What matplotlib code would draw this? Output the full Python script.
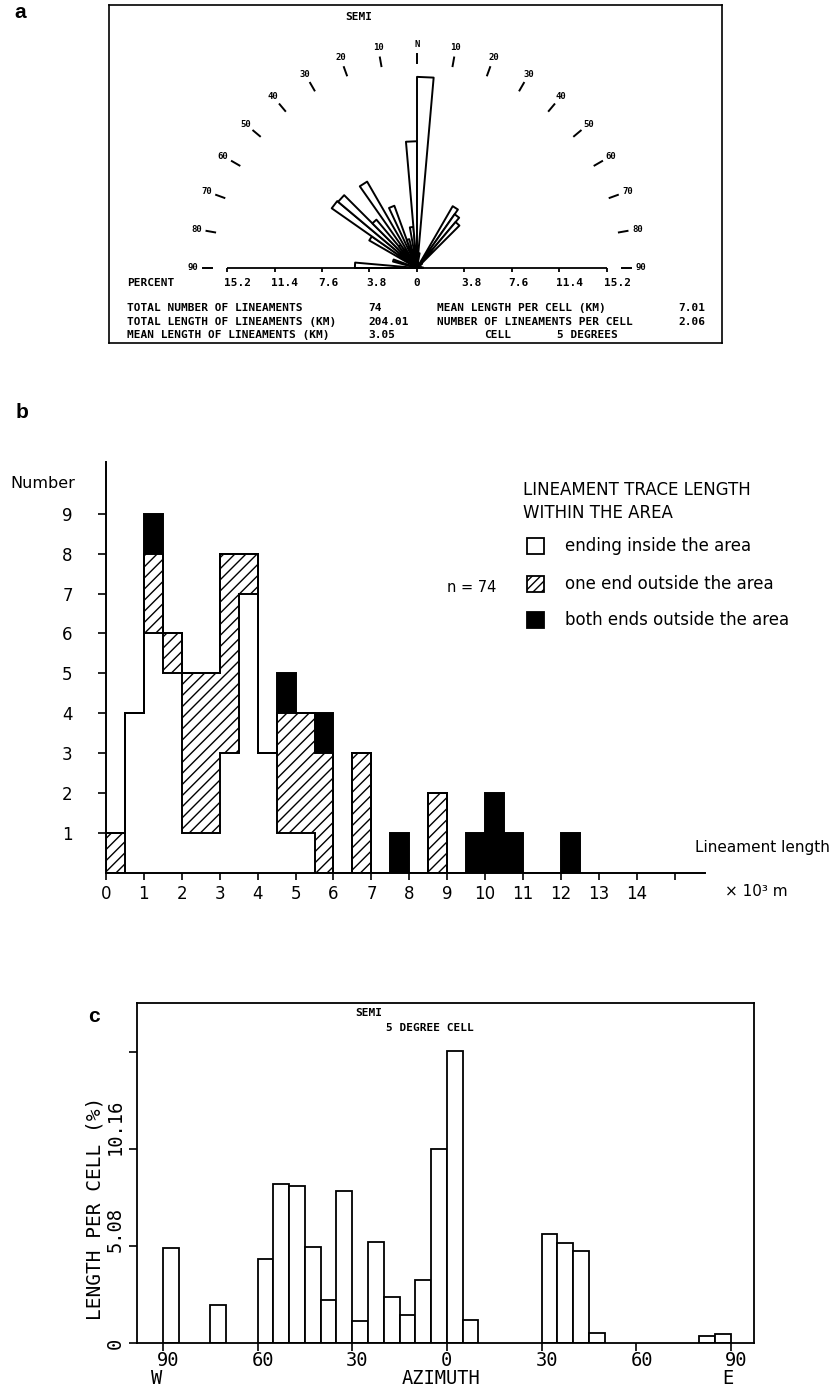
import numpy as np
import matplotlib.pyplot as plt
from matplotlib.patches import Polygon, Rectangle

W, H = 836, 1386

# percentage of lineament length in each 5 degree azimuth cell (negative = west)
cell_start = [-90, -75, -60, -55, -50, -45, -40, -35, -30, -25, -20, -15,
              -10, -5, 0, 5, 30, 35, 40, 45, 80, 85]
cell_pct = [4.97, 1.99, 4.41, 8.33, 8.24, 5.05, 2.25, 7.98, 1.15, 5.30, 2.39, 1.47,
            3.30, 10.14, 15.29, 1.20, 5.71, 5.25, 4.80, 0.54, 0.37, 0.49]
cell_width = 5

pct_ticks = [-15.2, -11.4, -7.6, -3.8, 0, 3.8, 7.6, 11.4, 15.2]
pct_labels = ["15.2", "11.4", "7.6", "3.8", "0", "3.8", "7.6", "11.4", "15.2"]
rose_angles = list(range(-90, 91, 10))
rose_labels = [str(abs(a)) if a else "N" for a in rose_angles]

summary_left = ["TOTAL NUMBER OF LINEAMENTS", "TOTAL LENGTH OF LINEAMENTS (KM)",
                "MEAN LENGTH OF LINEAMENTS (KM)"]
summary_left_val = ["74", "204.01", "3.05"]
summary_right = ["MEAN LENGTH PER CELL (KM)", "NUMBER OF LINEAMENTS PER CELL"]
summary_right_val = ["7.01", "2.06"]

# trace length classes, 0.5 km wide
len_edges = np.arange(0, 12.51, 0.5)
n_inside = np.array([0, 4, 6, 5, 1, 1, 3, 7, 3, 1, 1, 0, 0, 0, 0, 0, 0, 0, 0, 0, 0, 0, 0, 0, 0])
n_one_end = np.array([1, 0, 2, 1, 4, 4, 5, 1, 0, 3, 3, 3, 0, 3, 0, 0, 0, 2, 0, 0, 0, 0, 0, 0, 0])
n_both_ends = np.array([0, 0, 1, 0, 0, 0, 0, 0, 0, 1, 0, 1, 0, 0, 0, 1, 0, 0, 0, 1, 2, 1, 0, 0, 1])

azimuth_ticks = [-90, -60, -30, 0, 30, 60, 90]
pct_axis_ticks = [0, 5.08, 10.16, 15.24]
pct_axis_labels = ["0", "5.08", "10.16", ""]

plt.rcParams['hatch.linewidth'] = 1.0
MONO = 'DejaVu Sans Mono'


def fx(px):
    return px / W


def fy(py):
    return 1 - py / H


fig = plt.figure(figsize=(W / 100, H / 100), dpi=100)
fig.patch.set_facecolor('white')

# ---------------- a: half rose diagram ----------------
cx, cy, scale = 417, 268, 12.5
left, right, top, bottom = 109, 722, 5, 343
ax_a = fig.add_axes([fx(left), fy(bottom), (right - left) / W, (bottom - top) / H])
ax_a.set_xlim((left - cx) / scale, (right - cx) / scale)
ax_a.set_ylim((cy - bottom) / scale, (cy - top) / scale)
ax_a.set_xticks([])
ax_a.set_yticks([])
for s in ax_a.spines.values():
    s.set_linewidth(1.2)

for a0, r in zip(cell_start, cell_pct):
    t0, t1 = np.radians(a0), np.radians(a0 + cell_width)
    petal = Polygon([(0, 0), (r * np.sin(t0), r * np.cos(t0)), (r * np.sin(t1), r * np.cos(t1))],
                    closed=True, fc='white', ec='black', lw=1.4, joinstyle='round')
    ax_a.add_patch(petal)

ax_a.hlines(0, pct_ticks[0], pct_ticks[-1], color='black', lw=1.3)
ax_a.vlines(pct_ticks, -0.35, 0, color='black', lw=1.3)
for t, lab in zip(pct_ticks, pct_labels):
    ax_a.text(t - 0.27, -1.2, lab, family=MONO, weight='bold', fontsize=8,
              ha='left', va='center')

for ang, lab in zip(rose_angles, rose_labels):
    th = np.radians(ang)
    ax_a.plot([16.4 * np.sin(th), 17.1 * np.sin(th)], [16.4 * np.cos(th), 17.1 * np.cos(th)],
              color='black', lw=1.4)
    ax_a.text(17.9 * np.sin(th), 17.9 * np.cos(th), lab, family=MONO, weight='bold',
              fontsize=6.5, ha='center', va='center')

ax_a.text((345 - cx) / scale, (cy - 17) / scale, "SEMI", family=MONO, weight='bold',
          fontsize=8, ha='left', va='center')
ax_a.text(-23.2, -1.2, "PERCENT", family=MONO, weight='bold', fontsize=8, ha='left', va='center')
for i, y in enumerate([-3.2, -4.32, -5.36]):
    ax_a.text(-23.2, y, summary_left[i], family=MONO, weight='bold', fontsize=8,
              ha='left', va='center')
    ax_a.text(-3.92, y, summary_left_val[i], family=MONO, weight='bold', fontsize=8,
              ha='left', va='center')
    if i < 2:
        ax_a.text(1.6, y, summary_right[i], family=MONO, weight='bold', fontsize=8,
                  ha='left', va='center')
        ax_a.text(20.88, y, summary_right_val[i], family=MONO, weight='bold', fontsize=8,
                  ha='left', va='center')
ax_a.text(5.36, -5.36, "CELL", family=MONO, weight='bold', fontsize=8, ha='left', va='center')
ax_a.text(11.2, -5.36, "5 DEGREES", family=MONO, weight='bold', fontsize=8, ha='left', va='center')

# ---------------- b: trace length histogram ----------------
ax_b = fig.add_axes([fx(106), fy(872.7), (705 - 106) / W, (872.7 - 462) / H])
ax_b.set_xlim(0, 15.8)
ax_b.set_ylim(0, 10.3)
lower = n_inside
middle = n_inside + n_one_end
total = middle + n_both_ends
ax_b.bar(len_edges[:-1], n_inside, width=0.5, align='edge', color='white', lw=0)
ax_b.bar(len_edges[:-1], n_one_end, bottom=lower, width=0.5, align='edge',
         fc='white', ec='black', hatch='///', lw=0)
ax_b.bar(len_edges[:-1], n_both_ends, bottom=middle, width=0.5, align='edge',
         color='black', lw=0)
for level in (lower, middle, total):
    ax_b.stairs(level, len_edges, color='black', lw=1.4, baseline=0)

for side in ('top', 'right'):
    ax_b.spines[side].set_visible(False)
for side in ('left', 'bottom'):
    ax_b.spines[side].set_linewidth(1.4)
ax_b.set_xticks(range(16))
ax_b.set_xticklabels([str(i) for i in range(15)] + [""])
ax_b.set_yticks(range(1, 10))
ax_b.tick_params(axis='x', direction='out', length=5, width=1.2, pad=4, labelsize=12)
ax_b.tick_params(axis='y', direction='out', length=6, width=1.2, pad=18, labelsize=12)

fig.text(fx(10), fy(483), "Number", fontsize=11.5, ha='left', va='center')
fig.text(fx(695), fy(847), "Lineament length", fontsize=11, ha='left', va='center')
fig.text(fx(725), fy(892), "\u00d7 10\u00b3 m", fontsize=11, ha='left', va='center')
fig.text(fx(447), fy(587), "n = 74", fontsize=10.5, ha='left', va='center')
fig.text(fx(523), fy(490), "LINEAMENT TRACE LENGTH", fontsize=12, ha='left', va='center')
fig.text(fx(523), fy(513), "WITHIN THE AREA", fontsize=12, ha='left', va='center')

legend_rows = [("ending inside the area", dict(fc='white', ec='black')),
               ("one end outside the area", dict(fc='white', ec='black', hatch='////')),
               ("both ends outside the area", dict(fc='black', ec='black'))]
for (lab, style), yc in zip(legend_rows, [546, 584, 620]):
    fig.add_artist(Rectangle((fx(527), fy(yc + 8)), 17 / W, 16 / H, lw=1.3,
                             transform=fig.transFigure, **style))
    fig.text(fx(565), fy(yc), lab, fontsize=12, ha='left', va='center')

# ---------------- c: length per azimuth cell ----------------
ax_c = fig.add_axes([fx(137), fy(1343), 617 / W, 340 / H])
ax_c.bar(cell_start, cell_pct, width=cell_width, align='edge', fc='white', ec='black', lw=1.3)
ax_c.set_xlim(-98.2, 97.3)
ax_c.set_ylim(0, 17.8)
for s in ax_c.spines.values():
    s.set_linewidth(1.3)
ax_c.set_xticks(azimuth_ticks)
ax_c.set_yticks(pct_axis_ticks)
ax_c.tick_params(direction='out', length=6, width=1.2, labelbottom=False, labelleft=False)

LBL = 13.5
xt = ax_c.get_xaxis_transform()
for t in azimuth_ticks:
    ax_c.text(t - 1.9, -0.052, str(abs(t)), transform=xt, family=MONO, fontsize=LBL,
              ha='left', va='center')
ax_c.text(-92, -0.103, "W", transform=xt, family=MONO, fontsize=LBL, ha='center', va='center')
ax_c.text(89, -0.103, "E", transform=xt, family=MONO, fontsize=LBL, ha='center', va='center')
ax_c.text(-2.0, -0.103, "AZIMUTH", transform=xt, family=MONO, fontsize=LBL,
          ha='center', va='center')

yt = ax_c.get_yaxis_transform()
for v, lab in zip(pct_axis_ticks, pct_axis_labels):
    ax_c.text(-0.036, v - 0.3, lab, transform=yt, family=MONO, fontsize=LBL, rotation=90,
              rotation_mode='anchor', ha='left', va='center')
ax_c.text(-0.068, 1.2, "LENGTH PER CELL (%)", transform=yt, family=MONO, fontsize=LBL + 0.5,
          rotation=90, rotation_mode='anchor', ha='left', va='center')

fig.text(fx(355), fy(1013), "SEMI", family=MONO, weight='bold', fontsize=8, ha='left', va='center')
fig.text(fx(386), fy(1028), "5 DEGREE CELL", family=MONO, weight='bold', fontsize=8,
         ha='left', va='center')

# panel letters
for lab, px, py in [("a", 20, 12), ("b", 22, 412), ("c", 94, 1016)]:
    fig.text(fx(px), fy(py), lab, fontsize=15, weight='bold', ha='center', va='center',
             family='Liberation Sans')

fig.savefig('out.png', dpi=100, facecolor='white')
